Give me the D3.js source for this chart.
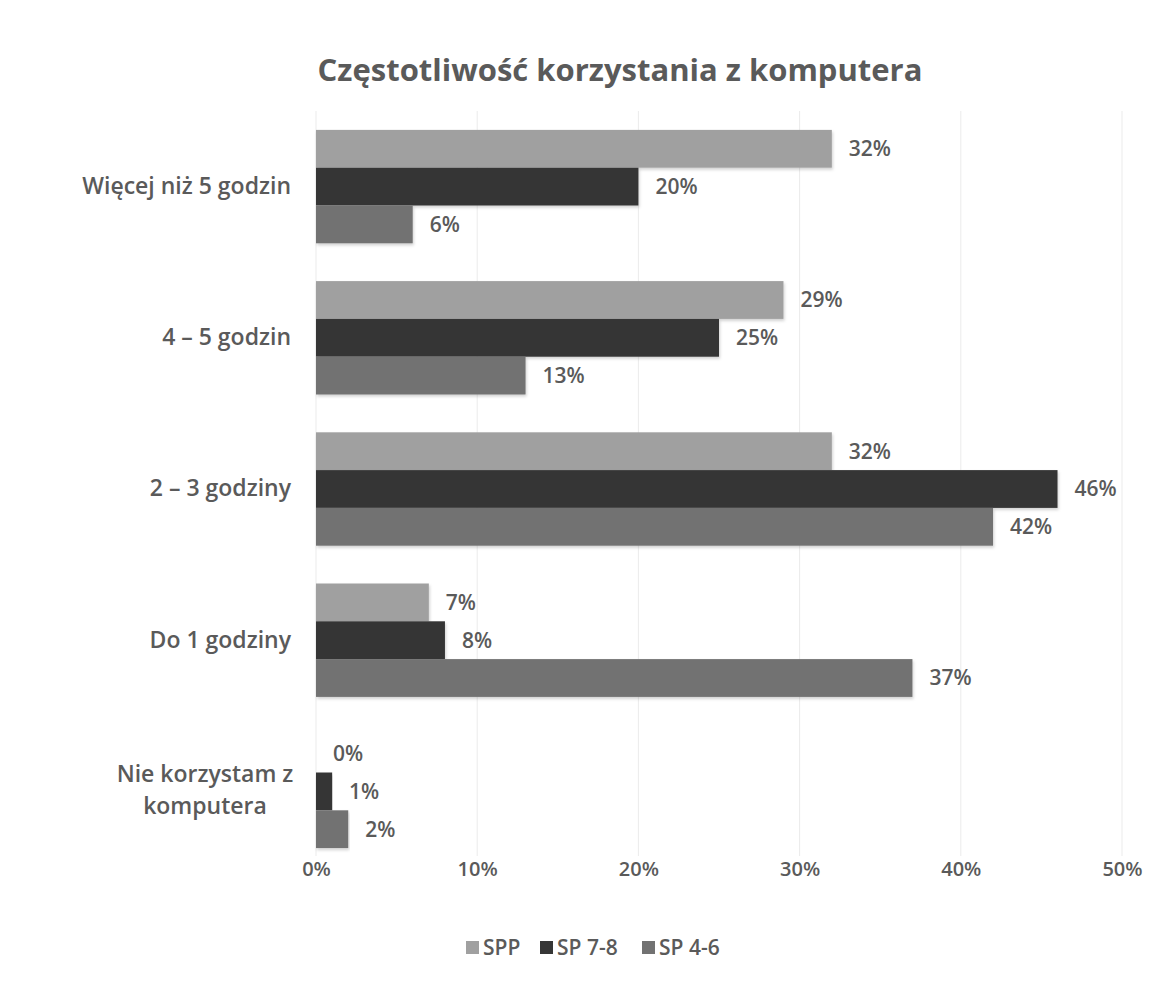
<!DOCTYPE html>
<html>
<head>
<meta charset="utf-8">
<script src="https://cdn.jsdelivr.net/npm/d3@7"></script>
<style>
  body { margin: 0; background: #fff; }
  text { font-family: "Open Sans", sans-serif; }
</style>
</head>
<body>
<svg id="chart" width="1171" height="997"></svg>
<script>
// chart data
const categories = ['Więcej niż 5 godzin', '4 – 5 godzin', '2 – 3 godziny', 'Do 1 godziny', 'Nie korzystam z komputera']
const seriesNames = ['SPP', 'SP 7-8', 'SP 4-6']
const sppValues = [32, 29, 32, 7, 0]
const sp78Values = [20, 25, 46, 8, 1]
const sp46Values = [6, 13, 42, 37, 2]
const tickValues = [0, 10, 20, 30, 40, 50]

const seriesColor = d3.scaleOrdinal()
  .domain(seriesNames)
  .range(['#a0a0a0', '#363636', '#727272'])

const textColor = '#5a5a5a'
const fontFamily = '"Open Sans", sans-serif'

const svg = d3.select('#chart')

const defs = svg.append('defs')
defs.append('filter')
  .attr('id', 'shadow')
  .attr('x', '-5%').attr('y', '-10%').attr('width', '110%').attr('height', '130%')
  .append('feDropShadow')
  .attr('dx', 1).attr('dy', 2).attr('stdDeviation', 1.5)
  .attr('flood-color', '#000').attr('flood-opacity', 0.18)

// scales
const x = d3.scaleLinear().domain([0, 50]).range([316, 1122])
const y = d3.scaleBand().domain(categories).range([111, 867])
  .paddingInner(0.25).paddingOuter(0.125)
const ySub = d3.scaleBand().domain(seriesNames).range([0, y.bandwidth()])

// build rows
const data = categories.map(function (c, i) {
  return {
    category: c,
    values: [
      { name: 'SPP', value: sppValues[i] },
      { name: 'SP 7-8', value: sp78Values[i] },
      { name: 'SP 4-6', value: sp46Values[i] }
    ]
  }
})

// title
svg.append('text')
  .attr('x', 620)
  .attr('y', 81)
  .attr('text-anchor', 'middle')
  .style('font-size', '31px')
  .style('font-weight', 'bold')
  .style('fill', textColor)
  .text('Częstotliwość korzystania z komputera')

// gridlines
svg.append('g')
  .selectAll('line')
  .data(tickValues)
  .enter()
  .append('line')
  .attr('x1', d => x(d)).attr('x2', d => x(d))
  .attr('y1', 111).attr('y2', 856)
  .style('stroke', '#ebebeb')
  .style('stroke-width', 1)

// x axis labels
const xAxis = svg.append('g')
  .attr('transform', 'translate(0,' + 848 + ')')
  .call(d3.axisBottom(x).tickValues(tickValues).tickSize(0).tickPadding(14).tickFormat(d => d + '%'))
xAxis.select('.domain').remove()
xAxis.selectAll('text')
  .style('font-size', '20px')
  .style('font-weight', 600)
  .style('fill', textColor)
  .style('font-family', fontFamily)

// category labels
const yAxis = svg.append('g')
  .attr('transform', 'translate(' + 291 + ',0)')
  .call(d3.axisLeft(y).tickSize(0).tickPadding(0))
yAxis.select('.domain').remove()
yAxis.selectAll('text')
  .style('font-size', '23px')
  .style('font-weight', 600)
  .style('fill', textColor)
  .style('font-family', fontFamily)
  .each(function (d) {
    // wrap the long label like the original
    if (d === 'Nie korzystam z komputera') {
      const t = d3.select(this)
      t.text(null).attr('text-anchor', 'middle')
      t.append('tspan').attr('x', -86).attr('dy', '-0.4em').text('Nie korzystam z')
      t.append('tspan').attr('x', -86).attr('dy', '1.4em').text('komputera')
    }
  })

// bars
const groups = svg.append('g')
  .selectAll('.group')
  .data(data)
  .enter()
  .append('g')
  .attr('class', 'group')
  .attr('transform', d => 'translate(0,' + y(d.category) + ')')

groups.selectAll('rect')
  .data(d => d.values)
  .enter()
  .append('rect')
  .attr('x', x(0))
  .attr('y', d => ySub(d.name))
  .attr('width', d => x(d.value) - x(0))
  .attr('height', ySub.bandwidth())
  .attr('filter', 'url(#shadow)')
  .style('fill', d => seriesColor(d.name))

groups.selectAll('.label')
  .data(d => d.values)
  .enter()
  .append('text')
  .attr('class', 'label')
  .attr('x', d => x(d.value) + 17)
  .attr('y', d => ySub(d.name) + ySub.bandwidth() / 2)
  .attr('dy', '0.35em')
  .style('font-size', '21px')
  .style('font-weight', 600)
  .style('fill', textColor)
  .text(d => d.value + '%')

// legend
const legendX = [466, 540, 642]
const legend = svg.append('g')
  .selectAll('.legend')
  .data(seriesNames)
  .enter()
  .append('g')
  .attr('class', 'legend')
  .attr('transform', (d, i) => 'translate(' + legendX[i] + ',' + 948 + ')')

legend.append('rect')
  .attr('x', 0).attr('y', -7)
  .attr('width', 13).attr('height', 13)
  .style('fill', d => seriesColor(d))

legend.append('text')
  .attr('x', 17)
  .attr('y', 0)
  .attr('dy', '0.35em')
  .style('font-size', '21px')
  .style('font-weight', 600)
  .style('fill', textColor)
  .text(d => d)
</script>
</body>
</html>
